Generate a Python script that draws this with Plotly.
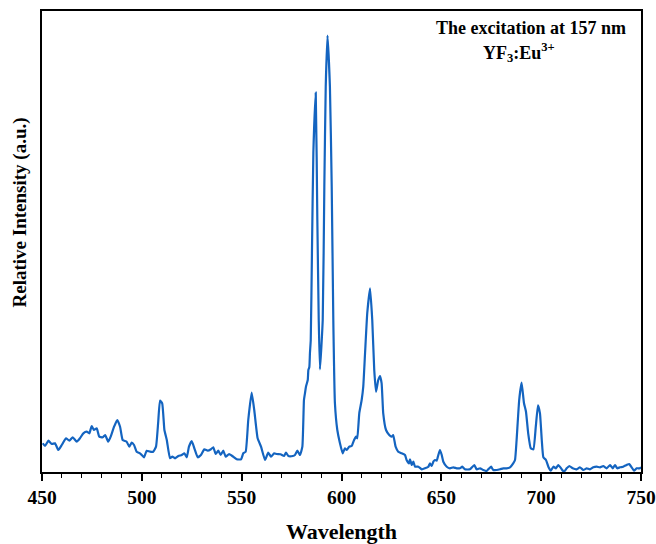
import plotly.graph_objects as go

wavelength = [
    450.4, 451.5, 453.2, 454.9, 456.5, 458.2, 459.9, 462.0, 463.7, 465.4, 467.4, 469.0,
    470.7, 472.4, 473.7, 474.9, 476.0, 477.4, 478.7, 480.4, 481.6, 483.2, 484.4, 486.1,
    487.7, 489.1, 490.4, 492.4, 493.7, 494.9, 496.1, 497.4, 499.1, 501.1, 502.4, 504.1,
    505.7, 507.1, 508.2, 509.1, 510.2, 511.3, 512.5, 514.1, 515.3, 516.6, 518.3, 520.0,
    521.3, 522.5, 523.6, 525.0, 526.3, 528.0, 529.6, 531.3, 533.0, 534.6, 535.8, 537.0,
    538.3, 539.5, 540.8, 542.0, 543.7, 545.3, 547.5, 549.7, 550.8, 552.0, 553.3, 555.0,
    556.3, 558.0, 559.7, 561.7, 563.3, 564.7, 566.3, 567.5, 569.5, 571.2, 572.2, 573.4,
    575.6, 576.7, 577.9, 579.2, 580.4, 581.2, 581.7, 582.2, 583.1, 583.4, 583.9, 584.2,
    584.6, 585.2, 585.9, 587.1, 587.9, 588.6, 589.2, 590.6, 591.4, 592.1, 593.0, 594.2,
    595.1, 595.9, 596.7, 597.9, 599.2, 600.6, 601.7, 602.6, 603.9, 605.1, 606.3, 607.3,
    607.9, 608.9, 610.1, 610.9, 611.8, 612.9, 614.3, 615.4, 616.4, 617.3, 618.4, 619.3,
    620.1, 620.9, 622.3, 623.9, 625.1, 625.9, 627.1, 628.4, 630.1, 631.8, 632.6, 633.8,
    634.3, 635.2, 636.0, 636.8, 638.5, 640.2, 641.8, 643.5, 644.3, 645.2, 646.0, 646.8,
    647.7, 648.5, 649.3, 650.2, 651.0, 652.7, 654.3, 656.0, 657.7, 659.3, 660.5, 661.8,
    664.3, 666.5, 667.7, 669.4, 671.0, 672.7, 674.9, 676.0, 677.7, 679.4, 681.0, 682.7,
    684.4, 686.0, 686.9, 687.7, 689.0, 690.2, 691.4, 692.4, 693.5, 694.8, 696.1, 697.3,
    698.4, 699.4, 700.3, 701.1, 702.4, 703.6, 704.8, 706.1, 707.4, 708.6, 710.3, 711.4,
    712.8, 714.1, 715.8, 717.8, 719.4, 721.1, 722.8, 724.4, 726.1, 727.8, 729.5, 731.1,
    732.8, 734.5, 735.8, 737.0, 738.1, 739.5, 741.1, 742.8, 744.1, 745.3, 746.5, 747.8,
    749.5, 750.0,
]

intensity = [
    28.7, 26.0, 31.3, 28.0, 28.7, 22.0, 27.0, 33.7, 31.3, 34.7, 30.3, 33.7,
    38.7, 40.3, 38.7, 46.0, 42.0, 43.7, 35.3, 34.7, 37.0, 30.3, 35.3, 45.3,
    52.0, 45.3, 32.0, 30.3, 25.3, 29.3, 27.0, 20.3, 18.7, 14.7, 21.3, 20.3,
    20.3, 25.3, 50.0, 71.3, 68.7, 42.0, 32.0, 13.7, 15.3, 13.7, 16.0, 17.0,
    18.7, 14.7, 25.3, 31.0, 23.7, 14.7, 17.0, 22.7, 21.3, 22.7, 24.7, 18.0,
    21.3, 17.0, 21.3, 15.3, 18.0, 16.0, 12.7, 12.7, 18.7, 20.3, 52.0, 79.3,
    62.0, 33.7, 25.3, 12.0, 19.3, 15.3, 18.7, 18.0, 17.7, 16.0, 19.3, 16.0,
    16.0, 17.0, 21.3, 17.0, 25.3, 72.0, 78.7, 85.3, 92.0, 102.0, 105.0, 119.0,
    132.0, 219.0, 319.0, 379.3, 252.0, 152.0, 102.7, 152.0, 285.3, 385.3, 436.5, 385.3,
    285.3, 152.0, 69.0, 42.0, 29.0, 18.7, 23.7, 22.0, 25.3, 26.0, 32.0, 35.3,
    33.7, 58.7, 72.0, 85.3, 119.0, 159.0, 183.7, 152.0, 102.0, 80.3, 92.0, 96.0,
    88.7, 58.7, 42.0, 37.0, 35.3, 37.0, 25.3, 20.3, 18.7, 17.0, 12.0, 8.7,
    12.7, 7.0, 10.3, 5.3, 5.3, 2.7, 3.7, 5.3, 8.7, 6.0, 10.3, 12.0,
    11.3, 17.0, 22.0, 17.0, 10.3, 5.3, 3.7, 4.7, 3.7, 3.7, 5.3, 2.7,
    2.7, 7.0, 2.7, 3.7, 2.0, 1.0, 5.3, 2.0, 2.0, 2.7, 3.7, 3.7,
    4.7, 8.7, 12.0, 32.0, 72.0, 89.3, 68.7, 60.3, 38.7, 23.7, 22.7, 45.3,
    66.7, 58.7, 32.0, 14.7, 12.0, 5.3, 1.3, 5.3, 3.7, 7.0, 2.7, 0.3,
    3.7, 6.0, 3.7, 2.7, 4.7, 2.0, 3.7, 2.7, 4.7, 5.3, 4.7, 6.0,
    3.7, 7.0, 3.7, 7.0, 3.7, 4.7, 5.3, 7.0, 8.0, 4.7, 1.3, 3.7,
    3.7, 5.0,
]

x_ticks = [450, 500, 550, 600, 650, 700, 750]
x_title = "Wavelength"
y_title = "Relative Intensity (a.u.)"
note_lines = ["The excitation at 157 nm", "YF<sub>3</sub>:Eu<sup>3+</sup>"]

SERIF = "Liberation Serif"
LINE = "#1464c0"

fig = go.Figure()
fig.add_trace(go.Scatter(
    x=wavelength, y=intensity, mode="lines",
    line=dict(color=LINE, width=2.2, shape="spline", smoothing=0.4),
    showlegend=False, hoverinfo="skip",
))

fig.update_layout(
    width=656, height=544,
    margin=dict(l=42, r=15, t=11, b=72),
    paper_bgcolor="white", plot_bgcolor="white",
    font=dict(family=SERIF, color="black"),
    xaxis=dict(
        range=[450, 750], tickvals=x_ticks, ticks="outside", ticklen=7, tickwidth=1.5,
        tickcolor="black", automargin=False,
        minor=dict(dtick=10, ticks="outside", ticklen=4, tickwidth=1.2, tickcolor="black"),
        showline=True, linecolor="black", linewidth=1.5, mirror=True,
        showgrid=False, zeroline=False,
        tickfont=dict(family=SERIF, size=19.5, weight="bold", color="black"),
        title=dict(text=x_title, font=dict(family=SERIF, size=22, weight="bold", color="black"),
                   standoff=22),
    ),
    yaxis=dict(
        range=[0, 461], showticklabels=False, ticks="", automargin=False,
        showline=True, linecolor="black", linewidth=1.5, mirror=True,
        showgrid=False, zeroline=False,
    ),
    annotations=[
        dict(text=y_title, xref="paper", yref="paper", x=-0.036, y=0.564,
             xanchor="center", yanchor="middle", textangle=-90, showarrow=False,
             font=dict(family=SERIF, size=19, weight="bold", color="black")),
        dict(text=note_lines[0], xref="paper", yref="paper", x=0.816, y=0.963,
             xanchor="center", yanchor="middle", showarrow=False,
             font=dict(family=SERIF, size=18, weight="bold", color="black")),
        dict(text=note_lines[1], xref="paper", yref="paper", x=0.796, y=0.909,
             xanchor="center", yanchor="middle", showarrow=False,
             font=dict(family=SERIF, size=18, weight="bold", color="black")),
    ],
)

# Remove the default page margin so the figure fills the window exactly.
fig.write_html(
    "out.html",
    config={"displayModeBar": False},
    post_script="document.body.style.margin='0';document.body.style.overflow='hidden';",
)
